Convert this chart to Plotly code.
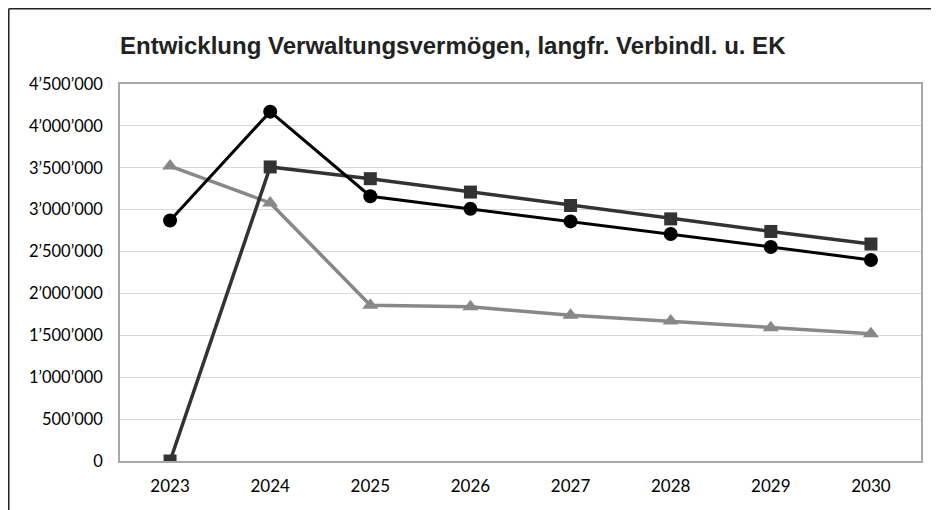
import plotly.graph_objects as go

years = ["2023", "2024", "2025", "2026", "2027", "2028", "2029", "2030"]
verwaltungsvermoegen = [2870000, 4170000, 3160000, 3010000, 2860000, 2710000, 2555000, 2400000]
langfr_verbindl = [0, 3510000, 3370000, 3210000, 3050000, 2890000, 2740000, 2590000]
eigenkapital = [3520000, 3080000, 1860000, 1840000, 1740000, 1670000, 1590000, 1520000]

tick_vals = [0, 500000, 1000000, 1500000, 2000000, 2500000, 3000000, 3500000, 4000000, 4500000]
tick_text = ["0", "500’000", "1’000’000", "1’500’000", "2’000’000", "2’500’000",
             "3’000’000", "3’500’000", "4’000’000", "4’500’000"]

# page offset of the plot div (browser body margin)
OFF = 8
W, H = 939 - OFF, 510 - OFF
PL, PR, PT, PB = 120, 921, 84, 461  # plot area in page pixels

fig = go.Figure()
fig.add_trace(go.Scatter(x=years, y=eigenkapital, mode="lines+markers", name="EK",
                         line=dict(color="#888888", width=3.5),
                         marker=dict(symbol="triangle-up", size=14, color="#888888")))
fig.add_trace(go.Scatter(x=years, y=langfr_verbindl, mode="lines+markers", name="langfr. Verbindl.",
                         line=dict(color="#333333", width=3.5),
                         marker=dict(symbol="square", size=13, color="#333333")))
fig.add_trace(go.Scatter(x=years, y=verwaltungsvermoegen, mode="lines+markers", name="Verwaltungsvermögen",
                         line=dict(color="#000000", width=3),
                         marker=dict(symbol="circle", size=14, color="#000000")))

pw, ph = PR - PL, PB - PT
fig.update_layout(
    width=W, height=H,
    margin=dict(l=PL - OFF, r=OFF + W - PR, t=PT - OFF, b=OFF + H - PB),
    paper_bgcolor="white", plot_bgcolor="white",
    showlegend=False,
    font=dict(family="Lato, sans-serif", size=17, color="#000000"),
    title=dict(text="<b>Entwicklung Verwaltungsvermögen, langfr. Verbindl. u. EK</b>",
               x=(PL - OFF) / W, xanchor="left", y=1 - 38 / H, yanchor="middle",
               font=dict(family="Liberation Sans, Arial, sans-serif", size=24, color="#222222")),
    xaxis=dict(type="category", range=[-0.5, 7.5], showgrid=False,
               showline=True, linecolor="#a8a8a8", linewidth=1.5, mirror=True,
               ticks="", ticklabelstandoff=9),
    yaxis=dict(range=[0, 4500000], tickvals=tick_vals, ticktext=tick_text,
               showgrid=True, gridcolor="#d9d9d9", gridwidth=1,
               showline=True, linecolor="#a8a8a8", linewidth=1.5, mirror=True,
               zeroline=False, ticks="", ticklabelstandoff=12,
               tickfont=dict(size=16.5)),
    shapes=[
        dict(type="line", xref="paper", yref="paper",
             x0=(8.75 - PL) / pw, x1=(OFF + W - PL) / pw,
             y0=(PB - 8.75) / ph, y1=(PB - 8.75) / ph,
             line=dict(color="#222222", width=1.5)),
        dict(type="line", xref="paper", yref="paper",
             x0=(8.75 - PL) / pw, x1=(8.75 - PL) / pw,
             y0=(PB - 8.75) / ph, y1=(PB - 515) / ph,
             line=dict(color="#222222", width=1.5)),
    ],
)

fig.write_html("out.html")
